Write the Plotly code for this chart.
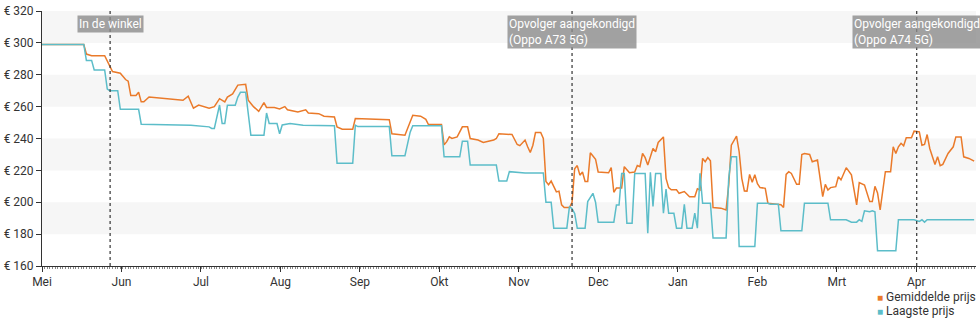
import plotly.graph_objects as go
import pandas as pd

# ---------------- data ----------------
avg_dates = ["2020-05-01","2020-05-17","2020-05-18","2020-05-20","2020-05-25","2020-05-28","2020-05-31","2020-06-02","2020-06-03","2020-06-04",
"2020-06-06","2020-06-07","2020-06-08","2020-06-09","2020-06-11","2020-06-24","2020-06-26","2020-06-28","2020-06-30","2020-07-04",
"2020-07-06","2020-07-08","2020-07-10","2020-07-11","2020-07-13","2020-07-15","2020-07-18","2020-07-19","2020-07-20","2020-07-21",
"2020-07-23","2020-07-25","2020-07-26","2020-07-29","2020-07-31","2020-08-02","2020-08-03","2020-08-07","2020-08-10","2020-08-11",
"2020-08-15","2020-08-17","2020-08-21","2020-08-22","2020-08-24","2020-08-28","2020-08-29","2020-09-04","2020-09-11","2020-09-12",
"2020-09-15","2020-09-17","2020-09-20","2020-09-23","2020-09-25","2020-09-26","2020-10-01","2020-10-02","2020-10-03","2020-10-04",
"2020-10-05","2020-10-07","2020-10-09","2020-10-11","2020-10-12","2020-10-15","2020-10-17","2020-10-21","2020-10-22","2020-10-23",
"2020-10-28","2020-10-30","2020-10-31","2020-11-02","2020-11-03","2020-11-04","2020-11-05","2020-11-06","2020-11-08","2020-11-09",
"2020-11-10","2020-11-11","2020-11-12","2020-11-13","2020-11-14","2020-11-15","2020-11-16","2020-11-17","2020-11-19","2020-11-20",
"2020-11-21","2020-11-22","2020-11-23","2020-11-24","2020-11-25","2020-11-26","2020-11-27","2020-11-28","2020-11-29","2020-11-30",
"2020-12-04","2020-12-05","2020-12-06","2020-12-07","2020-12-09","2020-12-10","2020-12-12","2020-12-14","2020-12-15","2020-12-16",
"2020-12-17","2020-12-18","2020-12-19","2020-12-21","2020-12-22","2020-12-23","2020-12-25","2020-12-26","2020-12-27","2020-12-28",
"2020-12-30","2020-12-31","2021-01-02","2021-01-04","2021-01-06","2021-01-07","2021-01-08","2021-01-09","2021-01-10","2021-01-11",
"2021-01-12","2021-01-13","2021-01-16","2021-01-18","2021-01-19","2021-01-20","2021-01-22","2021-01-23","2021-01-24","2021-01-25",
"2021-01-26","2021-01-27","2021-01-28","2021-01-29","2021-01-30","2021-01-31","2021-02-02","2021-02-03","2021-02-08","2021-02-09",
"2021-02-10","2021-02-11","2021-02-12","2021-02-14","2021-02-15","2021-02-16","2021-02-17","2021-02-19","2021-02-20","2021-02-22",
"2021-02-24","2021-02-25","2021-02-26","2021-02-27","2021-03-01","2021-03-02","2021-03-03","2021-03-05","2021-03-07","2021-03-09",
"2021-03-10","2021-03-12","2021-03-14","2021-03-15","2021-03-16","2021-03-17","2021-03-18","2021-03-20","2021-03-22","2021-03-23",
"2021-03-24","2021-03-25","2021-03-26","2021-03-27","2021-03-28","2021-03-30","2021-03-31","2021-04-02","2021-04-03","2021-04-04",
"2021-04-05","2021-04-06","2021-04-08","2021-04-09","2021-04-10","2021-04-11","2021-04-13","2021-04-15","2021-04-16","2021-04-18",
"2021-04-19","2021-04-21","2021-04-23"]
avg_prices = [299,299,293,292,292,282,281,277,276,267,
267,269,263,263,266,264,266.5,259,261,259,
260,265,263,266,268,273.5,274,264,262,260,
257,262.5,259.5,259.4,258.5,260,258,256.7,258,256,
255.6,254,253.5,247.3,245.8,245.8,252.5,252.3,251.8,243,
242.5,242,254.6,254,252,248.75,248.75,236,238,241,
240,241,247.3,247.3,240,239,237.5,239,240,243,
242.5,236.25,235.5,239,234.8,231.25,235.8,243.75,243.75,240,
213,211,213.3,209.8,206.5,207,198.4,196.7,196.7,200,
221,223,217,219,213,213,231,229,227,219,
218.5,221.8,206.25,208.9,209,222.3,218.5,219,223,222.3,
230.6,228,223.3,233.75,231.7,237.5,241,215,209.2,207.8,
207.8,205.6,206.7,203.5,203.5,208.5,207.7,227.5,225.4,228,
226,196.7,196.3,195.2,210.8,235.8,241.5,231.7,215,207.1,
207,217.5,212.5,217.3,211.7,209.2,208.75,199.4,198.4,196.7,
217.5,219.2,218.1,211.25,211.25,230,230.6,230,225.4,226.5,
203.5,211.25,207.7,209.2,209.8,216,214,221.7,217.2,198.4,
212.3,210.8,200.4,200.4,210,205.8,195.2,219.2,219.2,234.8,
230.6,234.8,237,235.4,240.4,240.4,244.6,244.2,235.8,236.25,
242.5,233.75,223.75,228.5,223,223.75,230.6,234.8,241,241,
228.5,227.5,225.8]

low_dates = ["2020-05-01","2020-05-17","2020-05-18","2020-05-20","2020-05-21","2020-05-25","2020-05-26","2020-05-27","2020-05-30","2020-05-31",
"2020-06-07","2020-06-08","2020-06-27","2020-07-04","2020-07-05","2020-07-06","2020-07-08","2020-07-09","2020-07-10","2020-07-11",
"2020-07-14","2020-07-15","2020-07-16","2020-07-18","2020-07-20","2020-07-25","2020-07-26","2020-07-27","2020-07-30","2020-07-31",
"2020-08-01","2020-08-04","2020-08-09","2020-08-21","2020-08-22","2020-08-28","2020-08-29","2020-08-30","2020-09-11","2020-09-12",
"2020-09-17","2020-09-19","2020-09-20","2020-09-26","2020-10-01","2020-10-02","2020-10-08","2020-10-09","2020-10-11","2020-10-12",
"2020-10-22","2020-10-23","2020-10-26","2020-10-27","2020-11-02","2020-11-09","2020-11-10","2020-11-12","2020-11-13","2020-11-18",
"2020-11-19","2020-11-20","2020-11-21","2020-11-22","2020-11-25","2020-11-26","2020-11-28","2020-11-29","2020-11-30","2020-12-06",
"2020-12-07","2020-12-08","2020-12-09","2020-12-10","2020-12-11","2020-12-13","2020-12-14","2020-12-18","2020-12-19","2020-12-20",
"2020-12-21","2020-12-22","2020-12-24","2020-12-25","2020-12-26","2020-12-27","2020-12-29","2020-12-30","2021-01-01","2021-01-02",
"2021-01-03","2021-01-05","2021-01-06","2021-01-07","2021-01-08","2021-01-09","2021-01-12","2021-01-13","2021-01-18","2021-01-19",
"2021-01-20","2021-01-22","2021-01-23","2021-01-29","2021-01-30","2021-02-03","2021-02-04","2021-02-07","2021-02-08","2021-02-16",
"2021-02-17","2021-02-26","2021-02-27","2021-03-05","2021-03-07","2021-03-09","2021-03-10","2021-03-11","2021-03-12","2021-03-14",
"2021-03-15","2021-03-16","2021-03-17","2021-03-24","2021-03-25","2021-03-31","2021-04-02","2021-04-03","2021-04-04","2021-04-05",
"2021-04-23"]
low_prices = [299,299,289,289,283,283,271,270,270,258.3,
258.3,249,248.3,247.3,246.3,246.3,261,249.4,249.4,260.8,
260.8,266,269,269,242,242,256,249.4,249.4,243,
248.5,249.4,248.3,248,224.4,224.4,248.3,247.5,247.5,229.2,
229.2,244,248,248,248,228.5,228.5,238.3,238.3,223.3,
223.3,213.3,213.3,219.2,218.4,218.4,200,200,183.75,183.75,
197.3,196,193,183.75,183.75,200.4,205.6,200,187.5,187.5,
198.3,198.3,218,218,186.9,186.9,218,218,180.6,218.75,
197.3,218,218,193.1,208.3,193.1,193.1,183.75,183.75,198.75,
183.75,183.75,193.1,183.75,218.1,199.4,199.4,177.5,177.5,215,
228.5,228.5,172.3,172.3,199.4,199.4,198.75,198.75,182.1,182.1,
199.4,199.4,189,189,187.5,187.5,189,188,194.6,194,
194.6,194,169.6,169.6,189,189,188,189,187.5,189,
189]

series_names = ["Gemiddelde prijs", "Laagste prijs"]
month_labels = ["Mei", "Jun", "Jul", "Aug", "Sep", "Okt", "Nov", "Dec", "Jan", "Feb", "Mrt", "Apr"]
y_ticks = [160, 180, 200, 220, 240, 260, 280, 300, 320]
y_tick_labels = ["€ 160", "€ 180", "€ 200", "€ 220", "€ 240", "€ 260", "€ 280", "€ 300", "€ 320"]
event_dates = ["2020-05-27 02:00", "2020-11-20", "2021-04-01"]
event_labels = ["In de winkel", "Opvolger aangekondigd<br>(Oppo A73 5G)", "Opvolger aangekondigd<br>(Oppo A74 5G)"]

# ---------------- styling ----------------
ORANGE = "#ea7a2a"
TEAL = "#5cbdc9"
COLORS = [ORANGE, TEAL]
TXT = "#333333"
FONT = "Roboto"

start = pd.Timestamp("2020-05-01")
end = pd.Timestamp("2021-04-23 17:00")
tickvals = [start + pd.Timedelta(days=30.44 * i) for i in range(len(month_labels))]

fig = go.Figure()

fig.add_trace(go.Scatter(x=avg_dates, y=avg_prices, mode="lines", name=series_names[0],
                         line=dict(color=ORANGE, width=1.5), showlegend=False, hoverinfo="skip"))
fig.add_trace(go.Scatter(x=low_dates, y=low_prices, mode="lines", name=series_names[1],
                         line=dict(color=TEAL, width=1.5), showlegend=False, hoverinfo="skip"))

shapes = []
for lo in [180, 220, 260, 300]:
    shapes.append(dict(type="rect", xref="paper", yref="y", x0=0, x1=1, y0=lo, y1=lo + 20,
                       fillcolor="#f6f6f6", line=dict(width=0), layer="below"))
for d in event_dates:
    shapes.append(dict(type="line", xref="x", yref="paper", x0=d, x1=d, y0=0, y1=1,
                       line=dict(color="#333333", width=1.2, dash="dot"), layer="above"))

annotations = []
for d, t in zip(event_dates, event_labels):
    annotations.append(dict(x=d, y=0.985, xref="x", yref="paper", text=t, showarrow=False,
                            xanchor="center", yanchor="top", align="left",
                            font=dict(family=FONT, size=12, color="white"),
                            bgcolor="rgba(140,140,140,0.8)", borderpad=1))

# legend (square swatches) drawn as text below the plot area, bottom right
legend_y = [-0.121, -0.176]
for name, col, yy in zip(series_names, COLORS, legend_y):
    annotations.append(dict(x=0.8915, y=yy, xref="paper", yref="paper", showarrow=False,
                            xanchor="left", yanchor="middle", align="left",
                            text=f"<span style='color:{col}; font-size:10px'>■</span> {name}",
                            font=dict(family=FONT, size=12, color=TXT)))

fig.update_layout(
    width=980, height=325,
    margin=dict(l=40, r=4, t=10, b=59),
    paper_bgcolor="white", plot_bgcolor="white",
    font=dict(family=FONT, size=12, color=TXT),
    shapes=shapes, annotations=annotations,
    showlegend=False,
)
fig.update_xaxes(type="date", range=[start, end], tickmode="array", tickvals=tickvals, ticktext=month_labels,
                 showgrid=False, zeroline=False, showline=True, linecolor="#333333", linewidth=1,
                 ticks="outside", ticklen=5, tickcolor="#333333",
                 tickfont=dict(family=FONT, size=12, color=TXT),
                 minor=dict(ticks="outside", ticklen=2, tickcolor="#888888", dtick=86400000, showgrid=False))
fig.update_yaxes(range=[160, 320], tickmode="array", tickvals=y_ticks, ticktext=y_tick_labels,
                 showgrid=False, zeroline=False, showline=True, linecolor="#333333", linewidth=1,
                 ticks="outside", ticklen=5, tickcolor="#333333",
                 tickfont=dict(family=FONT, size=12, color=TXT))

fig.write_html("out.html")
